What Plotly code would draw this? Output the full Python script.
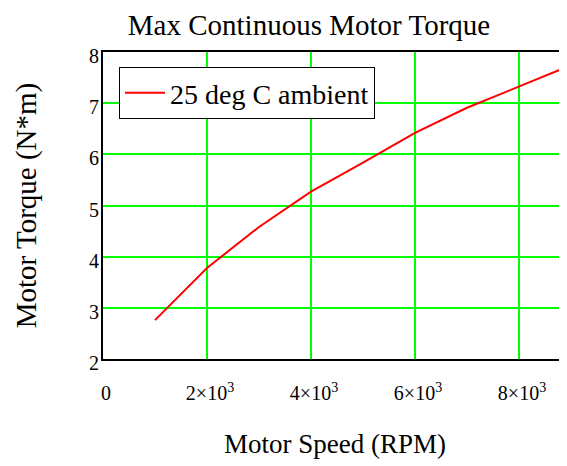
import plotly.graph_objects as go

speed_rpm = [1000, 2000, 3000, 4000, 5000, 6000, 7000, 8000, 9000]
torque_nm = [2.76, 3.78, 4.58, 5.27, 5.84, 6.42, 6.91, 7.32, 7.74]
series_name = "25 deg C ambient"
x_tickvals = [0, 2000, 4000, 6000, 8000]
x_ticktext = ["0", "2×10<sup>3</sup>", "4×10<sup>3</sup>", "6×10<sup>3</sup>", "8×10<sup>3</sup>"]
y_tickvals = [2, 3, 4, 5, 6, 7, 8]

FONT = "Liberation Serif"

fig = go.Figure()
fig.add_trace(go.Scatter(
    x=speed_rpm, y=torque_nm, mode="lines", name=series_name,
    line=dict(color="#ff0000", width=2),
))

W, H = 559, 458
fig.update_layout(
    width=W, height=H,
    margin=dict(l=95, r=0, t=44, b=107),
    paper_bgcolor="white", plot_bgcolor="white",
    font=dict(family=FONT, color="black", size=20),
    title=dict(text="Max Continuous Motor Torque", font=dict(size=29, family=FONT, color="black"),
               x=301/W, xref="container", xanchor="center",
               y=1 - 17/H, yref="container", yanchor="middle"),
    showlegend=True,
    legend=dict(x=16/464, y=(292)/307, xanchor="left", yanchor="top",
                bgcolor="white", bordercolor="black", borderwidth=1,
                font=dict(size=28, family=FONT, color="black"),
                itemwidth=40, tracegroupgap=0),
)
fig.update_xaxes(
    range=[0, 8923], tickvals=x_tickvals, ticktext=x_ticktext,
    showgrid=True, gridcolor="#00ff00", gridwidth=2,
    showline=True, linecolor="black", linewidth=2, mirror=True,
    zeroline=False, ticks="", ticklabelstandoff=15, ticklabelshift=3,
    tickfont=dict(size=20, family=FONT, color="black"),
    title=dict(text="Motor Speed (RPM)", font=dict(size=27, family=FONT, color="black"), standoff=31),
)
fig.update_yaxes(
    range=[2, 8], tickvals=y_tickvals,
    showgrid=True, gridcolor="#00ff00", gridwidth=2,
    showline=True, linecolor="black", linewidth=2, mirror=False,
    zeroline=False, ticks="", ticklabelstandoff=-2, ticklabelshift=4,
    tickfont=dict(size=20, family=FONT, color="black"),
    title=dict(text="Motor Torque (N*m)", font=dict(size=29, family=FONT, color="black"), standoff=44),
)

fig.write_html("out.html")
